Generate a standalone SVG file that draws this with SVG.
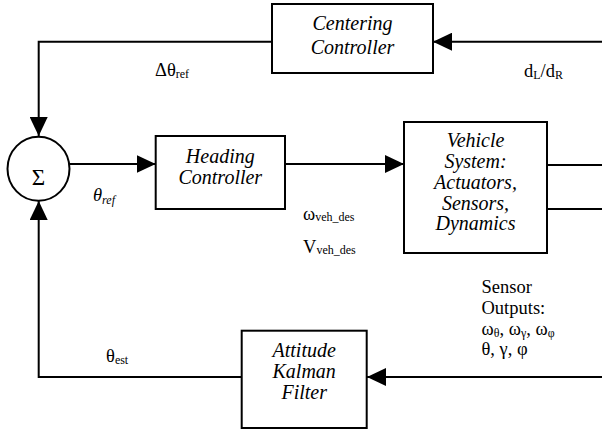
<svg xmlns="http://www.w3.org/2000/svg" width="602" height="431" viewBox="0 0 602 431">
<style>
.box{fill:#fff;stroke:#000;stroke-width:2}
.ln{fill:none;stroke:#000;stroke-width:2}
text{font-family:'Liberation Serif','Times New Roman',serif;fill:#000}
.bt{font-style:italic;font-size:20px;text-anchor:middle}
.lb{font-size:18.5px}
.sub{font-size:12px}
</style>
<defs>
<marker id="ah" markerWidth="19" markerHeight="18" refX="19" refY="9" orient="auto" markerUnits="userSpaceOnUse">
<path d="M0,0 L19,9 L0,18 Z" fill="#000"/>
</marker>
</defs>
<g id="connectors">
<path class="ln" d="M602,41.7 H433" marker-end="url(#ah)"/>
<path class="ln" d="M272,41.7 H38.7 V136" marker-end="url(#ah)"/>
<path class="ln" d="M69.5,164 H155.7" marker-end="url(#ah)"/>
<path class="ln" d="M285,164 H404" marker-end="url(#ah)"/>
<path class="ln" d="M547,165 H602"/>
<path class="ln" d="M547,209 H602"/>
<path class="ln" d="M602,377 H367" marker-end="url(#ah)"/>
<path class="ln" d="M241.7,377 H38.7 V201" marker-end="url(#ah)"/>
</g>
<g id="sum">
<ellipse cx="38.5" cy="168.8" rx="31" ry="32" fill="#fff" stroke="#000" stroke-width="2"/>
<text x="38.5" y="185" font-size="23" text-anchor="middle">Σ</text>
</g>
<g id="centering">
<rect class="box" x="272" y="4" width="161" height="69"/>
<text class="bt" x="352.5" y="30">Centering</text>
<text class="bt" x="352.5" y="54">Controller</text>
</g>
<g id="heading">
<rect class="box" x="155.7" y="136" width="129.3" height="73"/>
<text class="bt" x="220.3" y="163">Heading</text>
<text class="bt" x="220.3" y="183.5">Controller</text>
</g>
<g id="vehicle">
<rect class="box" x="404" y="122" width="143" height="131"/>
<text class="bt" x="475.5" y="147">Vehicle</text>
<text class="bt" x="475.5" y="168">System:</text>
<text class="bt" x="475.5" y="189">Actuators,</text>
<text class="bt" x="475.5" y="209.5">Sensors,</text>
<text class="bt" x="475.5" y="230">Dynamics</text>
</g>
<g id="attitude">
<rect class="box" x="241.7" y="330.7" width="125" height="97.3"/>
<text class="bt" x="304.2" y="356.7">Attitude</text>
<text class="bt" x="304.2" y="378">Kalman</text>
<text class="bt" x="304.2" y="399">Filter</text>
</g>
<g id="labels">
<text class="lb" x="155" y="76">Δθ<tspan class="sub" dy="2">ref</tspan></text>
<text class="lb" x="93" y="201" font-style="italic">θ<tspan class="sub" dy="3">ref</tspan></text>
<text class="lb" x="106" y="361.5">θ<tspan class="sub" dy="2">est</tspan></text>
<text class="lb" x="303" y="220">ω<tspan class="sub" dy="1">veh_des</tspan></text>
<text class="lb" x="303" y="253">V<tspan class="sub" dy="1">veh_des</tspan></text>
<text class="lb" x="524" y="77">d<tspan class="sub" dy="2">L</tspan><tspan dy="-2">/d</tspan><tspan class="sub" dy="2">R</tspan></text>
<text class="lb" x="481.5" y="293">Sensor</text>
<text class="lb" x="481.5" y="314">Outputs:</text>
<text class="lb" x="481.5" y="335">ω<tspan class="sub" dy="2">θ</tspan><tspan dy="-2">, ω</tspan><tspan class="sub" dy="2">γ</tspan><tspan dy="-2">, ω</tspan><tspan class="sub" dy="2">φ</tspan></text>
<text class="lb" x="481.5" y="355">θ, γ, φ</text>
</g>
</svg>
